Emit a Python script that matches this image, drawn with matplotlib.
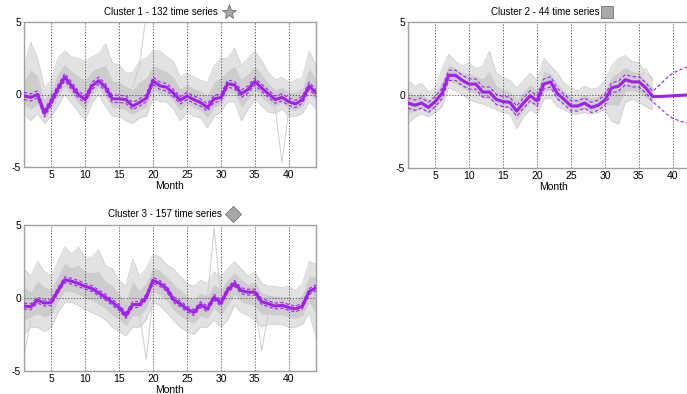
import numpy as np
import matplotlib
matplotlib.use("Agg")
import matplotlib.pyplot as plt

plt.rcParams["font.family"] = ["Liberation Sans", "DejaVu Sans"]
plt.rcParams["axes.unicode_minus"] = False

months = np.arange(1, 45)
nan = np.nan

# cluster 1 - 132 series
c1_mean = [-0.1, -0.2, 0.0, -1.3, -0.5, 0.4, 1.2, 0.6, 0.0, -0.35, 0.6, 0.95, 0.5, -0.3, -0.3,
           -0.35, -0.8, -0.55, -0.25, 0.95, 0.6, 0.5, 0.1, -0.4, -0.1, -0.35, -0.55, -0.9, -0.3, -0.2,
           0.75, 0.65, 0.05, 0.35, 0.9, 0.45, 0.05, -0.35, -0.2, -0.5, -0.65, -0.35, 0.6, 0.1]
c1_ci = [0.25] * 44
c1_hi = [2.0, 3.6, 2.5, 0.5, 1.0, 2.5, 3.0, 2.6, 2.5, 2.3, 2.6, 2.8, 3.5, 2.2, 2.0,
         1.5, 1.5, 2.3, 2.5, 3.0, 3.0, 2.6, 2.3, 1.2, 1.5, 1.2, 1.0, 0.8, 2.0, 2.5,
         2.5, 3.2, 2.0, 2.5, 3.0, 2.3, 1.5, 1.0, 1.2, 0.8, 1.0, 1.2, 3.0, 2.0]
c1_lo = [-1.3, -1.8, -1.3, -2.0, -1.5, -0.8, 0.0, -0.6, -1.2, -1.8, -0.6, 0.0, -0.8, -1.5, -1.5,
         -1.8, -2.0, -1.6, -1.5, -0.3, -0.5, -0.5, -1.0, -1.8, -1.2, -1.5, -1.6, -2.3, -1.5, -1.2,
         -0.5, -0.5, -1.8, -1.0, -0.3, -0.8, -1.2, -1.3, -1.0, -1.5, -1.5, -1.3, -0.5, -1.0]
c1_spikes = [{17: 0.5, 18: 2.0, 19: 5.5}, {37: -0.5, 38: -1.0, 39: -4.7, 40: -1.0, 41: -0.8}]

# cluster 2 - 44 series (data stops after month 37)
c2_mean = [-0.55, -0.7, -0.55, -0.85, -0.45, 0.1, 1.35, 1.35, 1.0, 0.75, 0.75, 0.2, 0.2, -0.3, -0.45,
           -0.5, -1.1, -0.55, -0.05, -0.4, 0.75, 0.9, 0.1, -0.3, -0.75, -0.75, -0.55, -0.85, -0.7, -0.35,
           0.5, 0.6, 1.05, 0.9, 0.9, 0.5, -0.1, -0.1, -0.08, -0.05, -0.03, 0.0, 0.0, 0.0]
c2_ci = [0.35] * 37 + [0.75, 1.2, 1.55, 1.75, 1.9, 1.95, 2.0]
c2_hi = [1.0, 0.6, 0.8, 0.2, 0.5, 1.8, 2.8, 2.3, 2.0, 2.2, 1.8, 2.0, 3.0, 1.5, 1.2,
         1.0, 0.5, 1.0, 1.5, 1.0, 2.5, 2.0, 1.5, 0.8, 0.5, 0.3, 0.6, 0.4, 0.5, 1.0,
         2.0, 2.5, 2.7, 2.3, 2.2, 1.5, 1.2] + [nan] * 7
c2_lo = [-2.0, -1.5, -1.3, -1.5, -1.2, -0.8, 0.5, 0.3, 0.0, -0.3, -0.5, -0.6, -0.8, -1.0, -1.2,
         -1.3, -2.3, -1.5, -1.0, -1.3, -0.3, -0.2, -0.8, -1.0, -1.3, -1.3, -1.2, -1.3, -1.2, -1.0,
         -1.8, -2.0, -0.5, -0.3, -0.5, -0.8, -1.0] + [nan] * 7
c2_spikes = [{35: 1.0, 36: 1.8, 37: 1.0}]

# cluster 3 - 157 series
c3_mean = [-0.55, -0.6, -0.15, -0.35, -0.3, 0.5, 1.25, 1.15, 1.0, 0.8, 0.65, 0.35, 0.05, -0.3, -0.65,
           -1.2, -0.45, -0.45, 0.05, 1.2, 1.0, 0.65, -0.1, -0.4, -0.75, -1.0, -0.45, -0.75, 0.05, -0.35,
           0.55, 1.0, 0.5, 0.4, 0.4, -0.25, -0.4, -0.55, -0.5, -0.65, -0.75, -0.55, 0.45, 0.7]
c3_ci = [0.2] * 44
c3_hi = [2.0, 1.5, 2.5, 1.8, 1.5, 2.5, 3.5, 3.0, 3.5, 2.8, 2.8, 3.3, 2.2, 2.0, 1.2,
         0.8, 2.7, 1.5, 2.0, 3.0, 2.8, 2.3, 2.0, 1.5, 1.0, 0.8, 1.2, 1.0, 1.8, 1.5,
         2.0, 2.5, 2.0, 1.5, 1.8, 1.0, 0.8, 0.8, 0.7, 0.8, 0.5, 1.0, 2.5, 2.3]
c3_lo = [-2.5, -2.0, -2.0, -2.3, -2.0, -1.0, -0.3, -0.3, -0.5, -0.8, -1.0, -1.2, -1.5, -2.0, -2.3,
         -2.6, -2.0, -2.0, -1.5, -0.3, -0.5, -1.0, -1.5, -2.0, -2.3, -2.5, -2.0, -2.0, -1.5, -2.0,
         -1.5, -0.5, -1.0, -1.2, -1.5, -2.0, -1.8, -1.8, -1.8, -2.0, -2.0, -1.8, -1.0, -2.7]
c3_spikes = [{1: -4.0, 2: -1.5}, {18: -1.0, 19: -4.2, 20: 0.0}, {28: 0.0, 29: 4.8, 30: 0.0},
             {35: -0.5, 36: -3.6, 37: -1.0}]

titles = ["Cluster 1 - 132 time series", "Cluster 2 - 44 time series", "Cluster 3 - 157 time series"]

purple = "#a020f0"
W, H = 687, 394
fig = plt.figure(figsize=(W / 100, H / 100), dpi=100)


def px_axes(left, top, right, bottom):
    return fig.add_axes([left / W, 1 - bottom / H, (right - left) / W, (bottom - top) / H])


def draw_cluster(ax, mean, ci, hi, lo, spikes):
    mean = np.array(mean)
    ci = np.array(ci)
    hi = np.array(hi)
    lo = np.array(lo)
    # light outer envelope of the grey series, denser core nearer the mean
    ax.fill_between(months, lo, hi, color="#e2e2e2", lw=0, zorder=1)
    ax.fill_between(months, (lo + mean) / 2, (hi + mean) / 2, color="#cdcdcd", lw=0, zorder=1)
    ax.plot(months, hi, color="#d0d0d0", lw=0.6, zorder=2)
    ax.plot(months, lo, color="#d0d0d0", lw=0.6, zorder=2)
    for sp in spikes:
        ax.plot(list(sp.keys()), list(sp.values()), color="#cccccc", lw=0.7, zorder=2)
    ax.plot(months, mean, color=purple, lw=2.2, zorder=4)
    ax.plot(months, mean + ci, color=purple, lw=0.8, ls=(0, (3, 2)), zorder=4)
    ax.plot(months, mean - ci, color=purple, lw=0.8, ls=(0, (3, 2)), zorder=4)

    ax.set_xlim(1, 44)
    ax.set_ylim(-5, 5)
    ax.set_xticks(range(5, 45, 5))
    ax.set_yticks([-5, 0, 5])
    ax.tick_params(length=0, labelsize=7.5, pad=2)
    for v in range(5, 45, 5):
        ax.axvline(v, color="#444444", lw=0.6, ls=(0, (1.5, 2)), zorder=3)
    ax.axhline(0, color="#444444", lw=0.6, ls=(0, (1.5, 2)), zorder=3)
    for s in ax.spines.values():
        s.set_color("#a0a0a0")
        s.set_linewidth(1.0)
    ax.set_xlabel("Month", fontsize=7.5, labelpad=1)


ax1 = px_axes(24, 22, 316, 167)
draw_cluster(ax1, c1_mean, c1_ci, c1_hi, c1_lo, c1_spikes)
ax2 = px_axes(408, 22, 700, 168)
draw_cluster(ax2, c2_mean, c2_ci, c2_hi, c2_lo, c2_spikes)
ax3 = px_axes(24, 225, 316, 371)
draw_cluster(ax3, c3_mean, c3_ci, c3_hi, c3_lo, c3_spikes)

# titles with cluster symbols
title_pos = [(161, 12, "*", 229, 11), (545, 12, "s", 607, 9), (165, 214, "D", 233, 8)]
for txt, (cx, cy, mk, mx, ms) in zip(titles, title_pos):
    fig.text(cx / W, 1 - cy / H, txt, ha="center", va="center", fontsize=7.0)
    fig.add_artist(plt.Line2D([mx / W], [1 - cy / H], marker=mk, markersize=ms,
                              markerfacecolor="#a8a8a8", markeredgecolor="#707070",
                              markeredgewidth=0.6, transform=fig.transFigure))

fig.savefig("out.png", dpi=100)
